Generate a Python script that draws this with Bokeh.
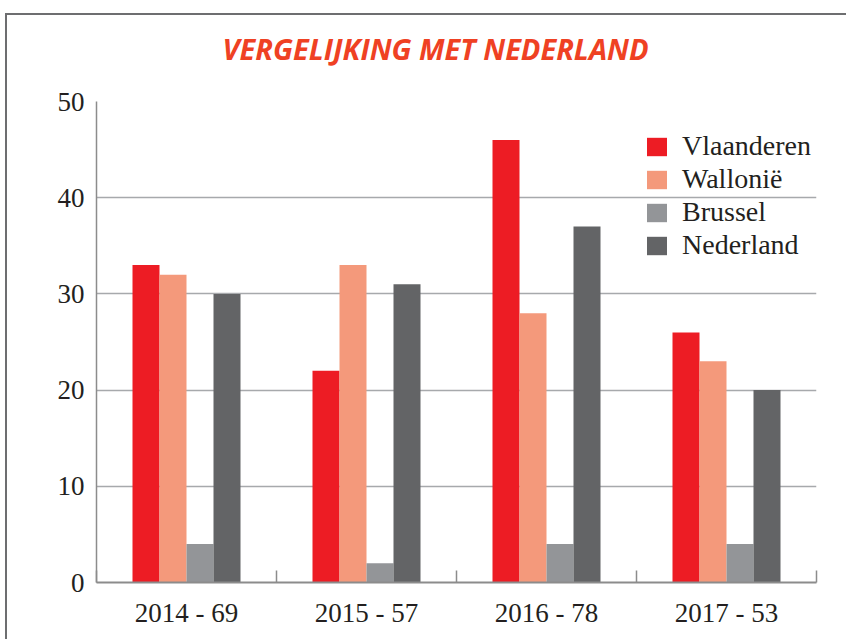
from bokeh.plotting import figure
from bokeh.models import (Range1d, FixedTicker, Legend, LegendItem,
                          ColumnDataSource, Title)
from bokeh.transform import dodge
from bokeh.embed import file_html
from bokeh.resources import INLINE

# ---- data ----
categories = ["2014 - 69", "2015 - 57", "2016 - 78", "2017 - 53"]
series_names = ["Vlaanderen", "Wallonië", "Brussel", "Nederland"]
vlaanderen = [33, 22, 46, 26]
wallonie = [32, 33, 28, 23]
brussel = [4, 2, 4, 4]
nederland = [30, 31, 37, 20]
y_ticks = [0, 10, 20, 30, 40, 50]
title_text = "VERGELIJKING MET NEDERLAND"

colors = ["#ED1C24", "#F4997B", "#939598", "#636466"]
series = [vlaanderen, wallonie, brussel, nederland]
keys = ["s0", "s1", "s2", "s3"]

xc = [i + 0.5 for i in range(len(categories))]
data = dict(x=xc)
for k, s in zip(keys, series):
    data[k] = s
source = ColumnDataSource(data)

SERIF = "Liberation Serif"
AX = "#8C8C8C"

# figure content origin expected at page (7, 15)
p = figure(width=841, height=626, x_range=Range1d(0, len(categories)),
           y_range=Range1d(y_ticks[0], y_ticks[-1]),
           output_backend="svg", toolbar_location=None,
           min_border_left=89, min_border_right=32, min_border_top=86,
           min_border_bottom=59)
p.styles = {"margin-left": "5px", "margin-top": "13px",
            "border-top": "2px solid #6D6E70",
            "border-left": "2px solid #6D6E70"}
p.outline_line_color = None
p.background_fill_color = "white"
p.border_fill_color = "white"

bar_w = 0.15
items = []
for i, (k, name, c) in enumerate(zip(keys, series_names, colors)):
    off = (i - 1.5) * bar_w
    r = p.vbar(x=dodge("x", off), top=k, width=bar_w, source=source,
               fill_color=c, line_color=None)
    items.append(LegendItem(label=name, renderers=[r]))

# visible title (outermost panel)
p.title.text = title_text
p.title.align = "left"
p.title.offset = 126
p.title.standoff = 4
p.title.text_font = "Open Sans"
p.title.text_font_style = "bold italic"
p.title.text_font_size = "29px"
p.title.text_color = "#EF4123"

# white spacer between the title and the frame
spacer = Title(text=".", text_font_size="12px", standoff=21,
               text_color="white")
p.add_layout(spacer, "above")

# grid
p.xgrid.visible = False
p.ygrid.ticker = FixedTicker(ticks=y_ticks)
p.ygrid.grid_line_color = "#A7A9AC"
p.ygrid.grid_line_width = 1.5

# y axis
yax = p.yaxis[0]
yax.ticker = FixedTicker(ticks=y_ticks)
yax.axis_line_color = AX
yax.axis_line_width = 1.5
yax.major_tick_line_color = None
yax.minor_tick_line_color = None
yax.major_label_text_font = SERIF
yax.major_label_text_font_size = "27px"
yax.major_label_text_color = "#231F20"
yax.major_label_standoff = 6

# x axis
xax = p.xaxis[0]
xax.ticker = FixedTicker(ticks=xc, minor_ticks=list(range(len(categories) + 1)))
xax.major_label_overrides = {x: c for x, c in zip(xc, categories)}
xax.axis_line_color = AX
xax.axis_line_width = 2
xax.major_tick_line_color = None
xax.minor_tick_line_color = AX
xax.minor_tick_line_width = 1.5
xax.minor_tick_in = 12
xax.minor_tick_out = 0
xax.major_label_text_font = SERIF
xax.major_label_text_font_size = "27px"
xax.major_label_text_color = "#231F20"
xax.major_label_standoff = 9

# legend
legend = Legend(items=items, location=(548, 321), orientation="vertical",
                glyph_width=25, glyph_height=23, label_height=27,
                label_standoff=13, spacing=1, padding=0, margin=0,
                label_text_font=SERIF, label_text_font_size="28px",
                label_text_color="#231F20",
                border_line_color=None, background_fill_alpha=0)
p.add_layout(legend)

open("out.html", "w").write(file_html(p, INLINE))
